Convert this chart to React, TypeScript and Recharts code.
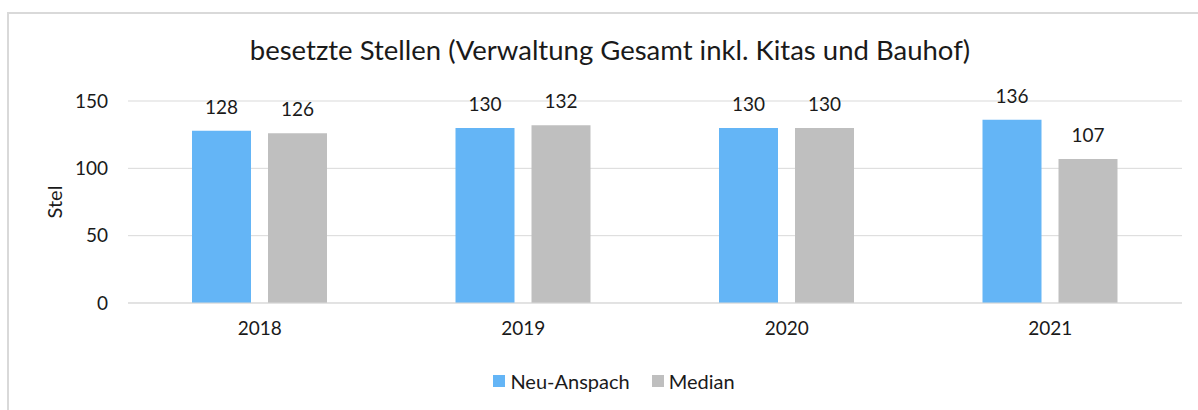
import React from 'react';
import { BarChart, Bar, XAxis, YAxis, CartesianGrid, LabelList } from 'recharts';

const categories = ['2018', '2019', '2020', '2021'];
const neuAnspach = [128, 130, 130, 136];
const median = [126, 132, 130, 107];
const yTicks = [0, 50, 100, 150];
const title = 'besetzte Stellen (Verwaltung Gesamt inkl. Kitas und Bauhof)';
const yLabel = 'Stel';
const seriesNames = ['Neu-Anspach', 'Median'];
const colors = ['#64B5F6', '#BFBFBF'];

const data = categories.map((c, i) => ({ year: c, a: neuAnspach[i], b: median[i] }));

const FONT = 'Lato, sans-serif';
const TXT = '#1a1a1a';

const LegendBox = () => (
  <div style={{ position: 'absolute', left: 0, top: 369, width: 1228, display: 'flex', justifyContent: 'center', alignItems: 'center', fontFamily: FONT, fontSize: 20, color: TXT }}>
    {seriesNames.map((n, i) => (
      <div key={n} style={{ display: 'flex', alignItems: 'center', marginRight: i === 0 ? 22 : 0 }}>
        <span style={{ display: 'inline-block', width: 12, height: 12, background: colors[i], marginRight: 5 }} />
        <span>{n}</span>
      </div>
    ))}
  </div>
);

export default function App() {
  return (
    <div style={{ position: 'absolute', left: 0, top: 0, width: 1198, height: 410, background: '#fff', overflow: 'hidden' }}>
      <div style={{ position: 'absolute', left: 7, top: 12, width: 1300, height: 500, border: '2px solid #d9d9d9', boxSizing: 'border-box' }} />
      <div style={{ position: 'absolute', left: 0, top: 33, width: 1220, textAlign: 'center', fontFamily: FONT, fontSize: 27.5, color: TXT, lineHeight: '34px' }}>{title}</div>
      <BarChart
        width={1198}
        height={410}
        data={data}
        margin={{ top: 101, right: 16, bottom: 77, left: 0 }}
        barGap={17}
        barCategoryGap={64}
        style={{ position: 'absolute', left: 0, top: 0 }}
      >
        <CartesianGrid vertical={false} stroke="#d9d9d9" strokeWidth={1} />
        <XAxis
          dataKey="year"
          height={30}
          axisLine={{ stroke: '#d9d9d9' }}
          tickLine={false}
          tickSize={0}
          tickMargin={19}
          tick={{ fill: TXT, fontSize: 19, fontFamily: FONT }}
        />
        <YAxis
          width={128}
          domain={[0, 150]}
          ticks={yTicks}
          axisLine={false}
          tickLine={false}
          tickSize={0}
          tickMargin={20}
          tick={{ fill: TXT, fontSize: 19, fontFamily: FONT }}
          label={{ value: yLabel, angle: -90, position: 'center', dx: -9, fill: TXT, fontSize: 20, fontFamily: FONT }}
        />
        <Bar dataKey="a" name={seriesNames[0]} fill={colors[0]} isAnimationActive={false}>
          <LabelList dataKey="a" position="top" offset={17} fill={TXT} fontSize={19} fontFamily={FONT} />
        </Bar>
        <Bar dataKey="b" name={seriesNames[1]} fill={colors[1]} isAnimationActive={false}>
          <LabelList dataKey="b" position="top" offset={17} fill={TXT} fontSize={19} fontFamily={FONT} />
        </Bar>
      </BarChart>
      <LegendBox />
    </div>
  );
}
